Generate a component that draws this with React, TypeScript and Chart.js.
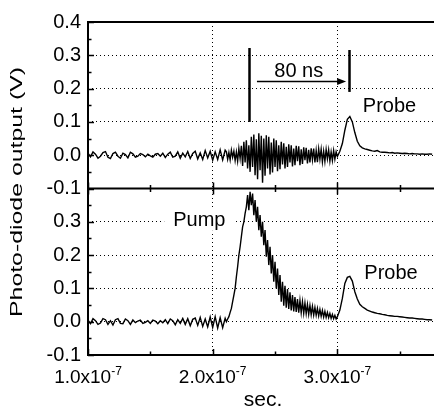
import React, { useEffect, useRef } from 'react';
import { Chart, registerables } from 'chart.js';

Chart.register(...registerables);

// ---- sampling grid (ns): coarse baseline, fine burst, coarse probe ----
const TIME_SEGMENTS_NS = [
  [100, 210, 2],
  [211, 300, 1],
  [302, 376, 2],
];

// ---- top panel signal (V) ----
const TOP_BASELINE = [
  0.006, -0.005, 0.010, 0.003, -0.009, -0.003, 0.008, 0.011, -0.006, -0.010,
  0.005, 0.009, -0.003, -0.009, 0.006, 0.002, -0.008, 0.009, 0.004, -0.006,
  -0.003, 0.005, 0.002, -0.005, 0.003, -0.002, -0.006, 0.003, 0.005, -0.003,
  0.006, -0.007, 0.003, 0.009, -0.006, -0.003, 0.010, -0.009, 0.006, -0.005,
  0.011, -0.010, 0.005, 0.012, -0.011, 0.007, -0.013, 0.014, -0.008, 0.012,
  -0.015, 0.010, -0.013, 0.016, -0.014, 0.015,
];
const TOP_BURST = [
  0.010, -0.012, 0.008, -0.014, 0.015, -0.006, 0.012, -0.016, 0.010, -0.018,
  0.020, -0.010, 0.028, -0.032, 0.040, -0.022, 0.045, -0.040, 0.030, -0.050,
  0.055, -0.035, 0.062, -0.060, 0.048, -0.072, 0.066, -0.045, 0.058, -0.083,
  0.050, -0.062, 0.060, -0.040, 0.055, -0.058, 0.038, -0.052, 0.050, -0.035,
  0.045, -0.048, 0.030, -0.042, 0.040, -0.028, 0.036, -0.040, 0.025, -0.035,
  0.033, -0.022, 0.030, -0.034, 0.020, -0.030, 0.028, -0.018, 0.027, -0.030,
  0.018, -0.026, 0.024, -0.015, 0.022, -0.025, 0.016, -0.022, 0.021, -0.014,
  0.020, -0.022, 0.014, -0.021, 0.019, -0.012, 0.018, -0.020, 0.012, -0.019,
  0.017, -0.011, 0.016, -0.018, 0.010, -0.016, 0.014, -0.012, 0.010, -0.004,
];
const TOP_PROBE = [
  0.012, 0.035, 0.075, 0.108, 0.116, 0.100, 0.068, 0.042, 0.028, 0.022,
  0.019, 0.017, 0.015, 0.013, 0.012, 0.014, 0.010, 0.009, 0.009, 0.008,
  0.007, 0.008, 0.006, 0.007, 0.006, 0.005, 0.006, 0.005, 0.004, 0.005,
  0.004, 0.004, 0.003, 0.004, 0.003, 0.003, 0.004, 0.003,
];

// ---- bottom panel signal (V) ----
const BOTTOM_BASELINE = [
  0.005, -0.006, 0.009, 0.003, -0.008, -0.004, 0.009, 0.006, -0.008, 0.003,
  -0.010, 0.006, 0.009, -0.005, -0.006, 0.008, 0.003, -0.008, 0.005, -0.003,
  0.002, 0.005, -0.005, -0.002, 0.003, -0.005, 0.005, 0.002, -0.006, 0.003,
  -0.003, 0.006, -0.006, 0.008, 0.003, -0.009, 0.006, -0.005, 0.010, -0.008,
  0.009, -0.012, 0.007, 0.011, -0.011, 0.013, -0.014, 0.008, -0.016, 0.014,
  -0.017, 0.015, -0.019, 0.012, -0.018, 0.010,
];
const BOTTOM_PUMP = [
  0.000, 0.008, 0.015, 0.028, 0.040, 0.060, 0.080, 0.100, 0.135, 0.165,
  0.200, 0.225, 0.255, 0.285, 0.300, 0.325, 0.345, 0.380, 0.335, 0.390,
  0.350, 0.385, 0.320, 0.365, 0.300, 0.345, 0.275, 0.320, 0.255, 0.300,
  0.230, 0.275, 0.195, 0.245, 0.170, 0.225, 0.145, 0.200, 0.120, 0.180,
  0.100, 0.160, 0.080, 0.140, 0.060, 0.120, 0.048, 0.108, 0.042, 0.098,
  0.038, 0.088, 0.034, 0.080, 0.031, 0.074, 0.029, 0.068, 0.027, 0.064,
  0.027, 0.060, 0.025, 0.056, 0.024, 0.052, 0.022, 0.049, 0.021, 0.046,
  0.020, 0.043, 0.019, 0.040, 0.017, 0.037, 0.016, 0.034, 0.014, 0.031,
  0.013, 0.028, 0.012, 0.025, 0.010, 0.022, 0.009, 0.019, 0.008, 0.015,
];
const BOTTOM_PROBE = [
  0.035, 0.070, 0.115, 0.133, 0.136, 0.122, 0.090, 0.068, 0.052, 0.045,
  0.040, 0.035, 0.032, 0.029, 0.027, 0.025, 0.024, 0.022, 0.021, 0.019,
  0.018, 0.017, 0.016, 0.016, 0.015, 0.014, 0.013, 0.012, 0.011, 0.011,
  0.010, 0.009, 0.008, 0.008, 0.007, 0.006, 0.006, 0.005,
];

const TOP_SIGNAL = [...TOP_BASELINE, ...TOP_BURST, ...TOP_PROBE];
const BOTTOM_SIGNAL = [...BOTTOM_BASELINE, ...BOTTOM_PUMP, ...BOTTOM_PROBE];

const X_MIN = 1.0e-7;
const X_MAX = 3.775e-7;
const X_MAJOR_TICKS = [1e-7, 2e-7, 3e-7];
const X_TICK_MANTISSAS = ['1.0', '2.0', '3.0'];
const X_TICK_EXPONENT = '-7';
const X_MINOR_TICKS = [1.5e-7, 2.5e-7, 3.5e-7];
const X_GRID_VALUES = [2e-7, 3e-7];

const Y_MIN = -0.1;
const Y_MAX = 0.4;
const Y_MAJOR_TICKS = [-0.1, 0, 0.1, 0.2, 0.3, 0.4];
const Y_MINOR_TICKS = [-0.05, 0.05, 0.15, 0.25, 0.35];
const Y_GRID_VALUES = [0, 0.1, 0.2, 0.3];

// annotation content (top panel markers and arrow)
const MARKER_TIMES = [2.29e-7, 3.09e-7];
const MARKER_LOW = [0.1, 0.19];
const MARKER_HIGH = [0.322, 0.316];
const ARROW_FROM = 2.355e-7;
const ARROW_TO = 3.07e-7;
const ARROW_LEVEL = 0.224;
const DELAY_LABEL = '80 ns';

const Y_TITLE = 'Photo-diode output (V)';
const X_TITLE = 'sec.';

const FONT = '"Liberation Sans", Arial, Helvetica, sans-serif';

const TIMES: number[] = [];
TIME_SEGMENTS_NS.forEach(([a, b, step]) => {
  for (let t = a; t <= b; t += step) TIMES.push(t * 1e-9);
});

const near = (a: number, b: number, tol: number) => Math.abs(a - b) < tol;

const gridColor = (values: number[], tol: number) => (ctx: any) => {
  const v = ctx.tick ? ctx.tick.value : undefined;
  if (v === undefined) return 'rgba(0,0,0,0)';
  return values.some((g) => near(g, v, tol)) ? '#000' : 'rgba(0,0,0,0)';
};

const fmt = (v: number) => (Math.abs(v) < 1e-9 ? 0 : v).toFixed(1);

const yScale = (showTopLabel: boolean) => ({
  type: 'linear',
  position: 'left',
  stack: 'panels',
  stackWeight: 1,
  min: Y_MIN,
  max: Y_MAX,
  afterFit: (s: any) => {
    s.width = 88;
  },
  ticks: {
    stepSize: 0.1,
    autoSkip: false,
    padding: 7,
    color: '#000',
    font: { family: FONT, size: 20 },
    callback: (v: any) => (!showTopLabel && near(Number(v), Y_MAX, 1e-9) ? '' : fmt(Number(v))),
  },
  grid: { color: gridColor(Y_GRID_VALUES, 1e-6), lineWidth: 1, drawTicks: false },
  border: { display: false, dash: [1, 3] },
});

const decorations = {
  id: 'decorations',
  beforeDatasetsDraw(chart: any) {
    const { ctx } = chart;
    const x = chart.scales.x;
    const yb = chart.scales.yBottom;
    // white box behind "Pump" label
    ctx.save();
    ctx.font = `20px ${FONT}`;
    const w = ctx.measureText('Pump').width;
    const cx = x.getPixelForValue(1.893e-7);
    const by = yb.getPixelForValue(0.288);
    ctx.fillStyle = '#fff';
    ctx.fillRect(cx - w / 2 - 9, by - 17, w + 18, 22);
    ctx.restore();
  },
  afterDatasetsDraw(chart: any) {
    const { ctx, chartArea } = chart;
    const x = chart.scales.x;
    const yt = chart.scales.yTop;
    const yb = chart.scales.yBottom;
    const left = chartArea.left;
    const right = chartArea.right;
    const mid = yt.bottom;

    ctx.save();
    ctx.strokeStyle = '#000';
    ctx.fillStyle = '#000';

    // markers
    ctx.lineWidth = 2.5;
    MARKER_TIMES.forEach((t, i) => {
      const px = Math.round(x.getPixelForValue(t)) + 0.5;
      ctx.beginPath();
      ctx.moveTo(px, yt.getPixelForValue(MARKER_LOW[i]));
      ctx.lineTo(px, yt.getPixelForValue(MARKER_HIGH[i]));
      ctx.stroke();
    });

    // arrow
    const ay = Math.round(yt.getPixelForValue(ARROW_LEVEL)) + 0.5;
    const ax1 = x.getPixelForValue(ARROW_FROM);
    const ax2 = x.getPixelForValue(ARROW_TO);
    ctx.lineWidth = 1.5;
    ctx.beginPath();
    ctx.moveTo(ax1, ay);
    ctx.lineTo(ax2 - 7, ay);
    ctx.stroke();
    ctx.beginPath();
    ctx.moveTo(ax2, ay);
    ctx.lineTo(ax2 - 9, ay - 3.5);
    ctx.lineTo(ax2 - 9, ay + 3.5);
    ctx.closePath();
    ctx.fill();

    // texts
    ctx.font = `20px ${FONT}`;
    ctx.textAlign = 'center';
    ctx.textBaseline = 'alphabetic';
    ctx.fillText(DELAY_LABEL, x.getPixelForValue(2.69e-7), yt.getPixelForValue(0.236));
    ctx.fillText('Probe', x.getPixelForValue(3.418e-7), yt.getPixelForValue(0.13));
    ctx.fillText('Pump', x.getPixelForValue(1.893e-7), yb.getPixelForValue(0.288));
    ctx.fillText('Probe', x.getPixelForValue(3.43e-7), yb.getPixelForValue(0.128));

    // frame
    ctx.lineWidth = 2;
    ctx.beginPath();
    ctx.moveTo(left, chartArea.top);
    ctx.lineTo(right, chartArea.top);
    ctx.moveTo(left, mid);
    ctx.lineTo(right, mid);
    ctx.moveTo(left - 1, chartArea.bottom);
    ctx.lineTo(right, chartArea.bottom);
    ctx.moveTo(left, chartArea.top - 1);
    ctx.lineTo(left, chartArea.bottom + 1);
    ctx.stroke();

    // inward ticks
    ctx.lineWidth = 1.5;
    ctx.beginPath();
    [yt, yb].forEach((s) => {
      Y_MAJOR_TICKS.forEach((v) => {
        const py = Math.round(s.getPixelForValue(v)) + 0.5;
        ctx.moveTo(left, py);
        ctx.lineTo(left + 6, py);
      });
      Y_MINOR_TICKS.forEach((v) => {
        const py = Math.round(s.getPixelForValue(v)) + 0.5;
        ctx.moveTo(left, py);
        ctx.lineTo(left + 3.5, py);
      });
    });
    X_MAJOR_TICKS.forEach((v) => {
      const px = Math.round(x.getPixelForValue(v)) + 0.5;
      ctx.moveTo(px, chartArea.bottom);
      ctx.lineTo(px, chartArea.bottom - 6);
      ctx.moveTo(px, mid - 6);
      ctx.lineTo(px, mid + 6);
    });
    X_MINOR_TICKS.forEach((v) => {
      const px = Math.round(x.getPixelForValue(v)) + 0.5;
      ctx.moveTo(px, chartArea.bottom);
      ctx.lineTo(px, chartArea.bottom - 3.5);
      ctx.moveTo(px, mid - 3.5);
      ctx.lineTo(px, mid + 3.5);
    });
    ctx.stroke();

    // x tick labels with superscript exponent
    const mainFont = `19px ${FONT}`;
    const supFont = `12px ${FONT}`;
    X_MAJOR_TICKS.forEach((v, i) => {
      const main = `${X_TICK_MANTISSAS[i]}x10`;
      ctx.font = mainFont;
      const wm = ctx.measureText(main).width;
      ctx.font = supFont;
      const ws = ctx.measureText(X_TICK_EXPONENT).width;
      const start = x.getPixelForValue(v) - (wm + ws) / 2;
      ctx.textAlign = 'left';
      ctx.font = mainFont;
      ctx.fillText(main, start, 383);
      ctx.font = supFont;
      ctx.fillText(X_TICK_EXPONENT, start + wm, 375);
    });

    // x title
    ctx.font = `21px ${FONT}`;
    ctx.textAlign = 'center';
    ctx.fillText(X_TITLE, (left + right) / 2 + 2, 406);

    // y title (rotated)
    ctx.font = `16px ${FONT}`;
    const tw = ctx.measureText(Y_TITLE).width;
    ctx.translate(18, 192);
    ctx.rotate(-Math.PI / 2);
    ctx.scale(250 / tw, 1);
    ctx.textBaseline = 'middle';
    ctx.fillText(Y_TITLE, 0, 0);

    ctx.restore();
  },
};

export default function App() {
  const ref = useRef<HTMLCanvasElement | null>(null);

  useEffect(() => {
    if (!ref.current) return;
    const line = {
      xAxisID: 'x',
      borderColor: '#000',
      borderWidth: 1.4,
      pointRadius: 0,
      fill: false,
      tension: 0,
    };
    const chart = new Chart(ref.current, {
      type: 'line',
      data: {
        datasets: [
          { ...line, yAxisID: 'yBottom', data: TIMES.map((t, i) => ({ x: t, y: BOTTOM_SIGNAL[i] })) },
          { ...line, yAxisID: 'yTop', data: TIMES.map((t, i) => ({ x: t, y: TOP_SIGNAL[i] })) },
        ],
      },
      options: {
        animation: false,
        responsive: false,
        events: [],
        layout: { padding: { top: 22, right: 0, bottom: 0, left: 0 } },
        plugins: { legend: { display: false }, tooltip: { enabled: false } },
        scales: {
          x: {
            type: 'linear',
            position: 'bottom',
            min: X_MIN,
            max: X_MAX,
            afterFit: (s: any) => {
              s.height = 54;
            },
            ticks: { display: false, stepSize: 1e-7 },
            grid: { color: gridColor(X_GRID_VALUES, 1e-12), lineWidth: 1, drawTicks: false },
            border: { display: false, dash: [1, 3] },
          },
          yBottom: yScale(false),
          yTop: yScale(true),
        } as any,
      },
      plugins: [decorations],
    } as any);
    return () => chart.destroy();
  }, []);

  return (
    <div style={{ position: 'absolute', left: 0, top: 0, width: 434, height: 409, background: '#fff' }}>
      <canvas ref={ref} width={434} height={409} style={{ width: 434, height: 409, display: 'block' }} />
    </div>
  );
}
